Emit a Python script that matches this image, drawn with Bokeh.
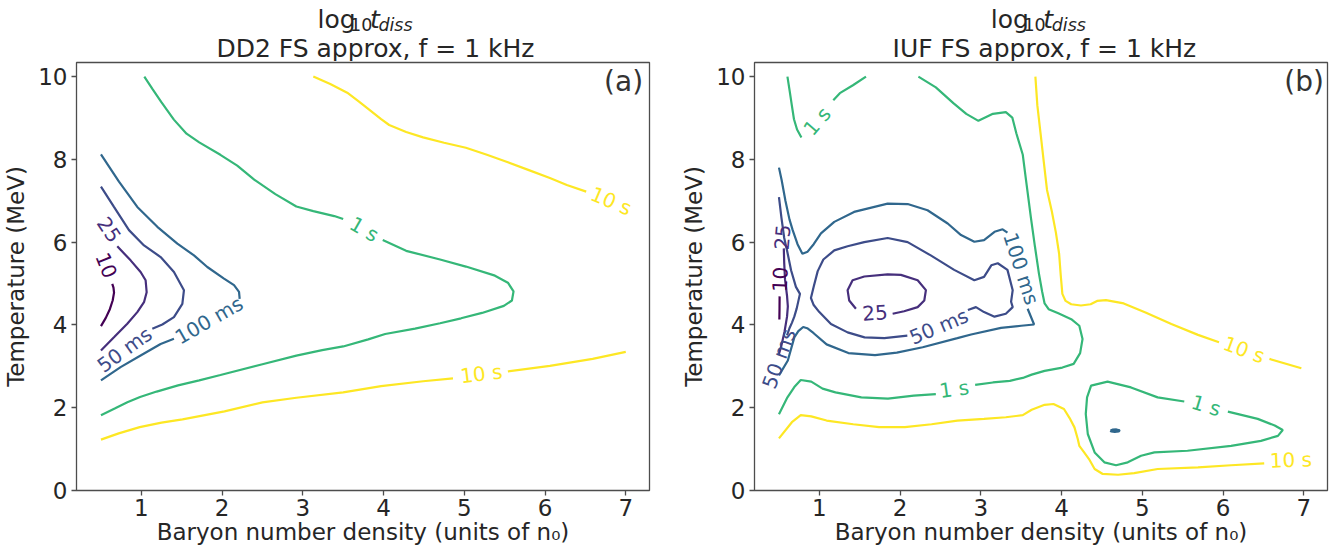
import math
from bokeh.plotting import figure
from bokeh.models import Range1d, FixedTicker, Label, ColumnDataSource
from bokeh.layouts import row, column
from bokeh.palettes import Viridis256
from bokeh.core.properties import value
from bokeh.embed import file_html
from bokeh.resources import INLINE

FONT = "DejaVu Sans"
TXT = "#262626"
EDGE = "#4d4d4d"

# contour levels (seconds) and axis ticks
levels_s = [0.01, 0.025, 0.05, 0.1, 1.0, 10.0]
x_ticks = [1, 2, 3, 4, 5, 6, 7]
y_ticks = [0, 2, 4, 6, 8, 10]
x_range_ab = [0.197, 7.294]
y_range_ab = [0.0, 10.34]

titles = ["DD2 FS approx, f = 1 kHz", "IUF FS approx, f = 1 kHz"]
panel_tags = ["(a)", "(b)"]
x_label = "Baryon number density (units of n\u2080)"
y_label = "Temperature (MeV)"

# ---------------- panel (a): DD2 ----------------
a10_x = [0.50, 0.56, 0.61, 0.645, 0.662, 0.655, 0.64]
a10_y = [3.97, 4.17, 4.38, 4.59, 4.78, 4.90, 4.99]

a25_x = [0.50, 0.661, 0.826, 0.95, 1.033, 1.066, 1.053, 0.991, 0.867, 0.702]
a25_y = [3.38, 3.70, 4.03, 4.31, 4.55, 4.79, 5.08, 5.28, 5.56, 5.90]

a50_x = [0.50, 0.661, 0.847, 1.033, 1.239, 1.404, 1.528, 1.508, 1.404, 1.26, 1.136]
a50_y = [7.34, 6.85, 6.29, 5.92, 5.64, 5.28, 4.84, 4.51, 4.19, 4.01, 3.91]

a100_top_x = [0.50, 0.723, 0.95, 1.198, 1.446, 1.652, 1.817, 2.024, 2.148, 2.21, 2.218]
a100_top_y = [8.12, 7.46, 6.85, 6.37, 5.965, 5.68, 5.40, 5.12, 4.96, 4.80, 4.63]
a100_bot_x = [1.404, 1.239, 0.991, 0.743, 0.50]
a100_bot_y = [3.665, 3.54, 3.26, 2.98, 2.66]

a1s_top_x = [1.037, 1.141, 1.246, 1.403, 1.56, 1.717, 1.979, 2.188, 2.398, 2.66, 2.92,
             3.13, 3.39, 3.50]
a1s_top_y = [10.0, 9.69, 9.39, 8.96, 8.62, 8.41, 8.11, 7.85, 7.51, 7.16, 6.86,
             6.75, 6.63, 6.56]
a1s_bot_x = [3.99, 4.28, 4.70, 5.02, 5.38, 5.54, 5.61, 5.59, 5.49, 5.22, 4.96, 4.70,
             4.39, 4.02, 3.81, 3.50, 3.24, 2.92, 2.50, 1.98, 1.717, 1.455, 1.19, 0.984,
             0.827, 0.67, 0.50]
a1s_bot_y = [6.05, 5.79, 5.58, 5.41, 5.19, 5.02, 4.81, 4.59, 4.46, 4.29, 4.16, 4.04,
             3.91, 3.78, 3.65, 3.48, 3.39, 3.26, 3.05, 2.79, 2.66, 2.54, 2.39, 2.26,
             2.13, 1.98, 1.82]

a10s_top_x = [3.13, 3.34, 3.55, 3.70, 3.81, 3.97, 4.07, 4.28, 4.49, 4.75, 5.02, 5.28,
              5.54, 5.80, 6.06, 6.27, 6.51]
a10s_top_y = [10.0, 9.82, 9.61, 9.39, 9.22, 8.97, 8.83, 8.66, 8.53, 8.40, 8.28, 8.11,
              7.93, 7.74, 7.55, 7.38, 7.22]
a10s_bot1_x = [0.50, 0.72, 0.98, 1.25, 1.51, 2.03, 2.50, 2.92, 3.50, 3.97, 4.49, 4.86]
a10s_bot1_y = [1.23, 1.38, 1.53, 1.64, 1.72, 1.91, 2.13, 2.24, 2.37, 2.52, 2.64, 2.71]
a10s_bot2_x = [5.54, 6.06, 6.59, 7.0]
a10s_bot2_y = [2.88, 3.01, 3.18, 3.35]

a_segments = [  # (level index, xs, ys)
    (0, a10_x, a10_y), (1, a25_x, a25_y), (2, a50_x, a50_y),
    (3, a100_top_x, a100_top_y), (3, a100_bot_x, a100_bot_y),
    (4, a1s_top_x, a1s_top_y), (4, a1s_bot_x, a1s_bot_y),
    (5, a10s_top_x, a10s_top_y), (5, a10s_bot1_x, a10s_bot1_y), (5, a10s_bot2_x, a10s_bot2_y),
]

a_lab_x = [0.565, 0.60, 0.793, 1.838, 3.76, 6.82, 5.21]
a_lab_y = [5.44, 6.30, 3.40, 4.11, 6.31, 6.99, 2.82]
a_lab_text = ["10", "25", "50 ms", "100 ms", "1 s", "10 s", "10 s"]
a_lab_angle = [-68, -56, 36, 30, -30, -23, 7]
a_lab_level = [0, 1, 2, 3, 4, 5, 5]

# ---------------- panel (b): IUF ----------------
b10_x = [0.505, 0.507, 0.508]
b10_y = [4.13, 4.40, 4.69]

b25L_x = [0.56, 0.565, 0.575, 0.60, 0.61, 0.60, 0.57, 0.53, 0.50]
b25L_y = [5.85, 5.50, 5.10, 4.70, 4.45, 4.20, 3.85, 3.50, 3.30]
b25loop_x = [1.453, 1.37, 1.35, 1.412, 1.557, 1.846, 2.01, 2.218, 2.32, 2.30, 2.218, 2.05, 1.908]
b25loop_y = [4.39, 4.59, 4.84, 5.08, 5.17, 5.22, 5.21, 5.08, 4.84, 4.59, 4.43, 4.33, 4.27]

b50L_x = [0.50, 0.53, 0.565, 0.60, 0.65, 0.71, 0.76, 0.72, 0.69, 0.66, 0.63, 0.60]
b50L_y = [7.09, 6.60, 6.10, 5.80, 5.32, 4.92, 4.75, 4.40, 4.20, 4.05, 3.92, 3.75]
b50loop_x = [2.09, 1.805, 1.56, 1.35, 1.144, 1.0, 0.93, 0.896, 0.93, 0.98, 1.05, 1.185, 1.35,
             1.556, 1.846, 2.094, 2.38, 2.67, 2.92, 3.04, 3.13, 3.21, 3.33, 3.395, 3.375,
             3.395, 3.31, 3.17, 3.04, 2.94, 2.84]
b50loop_y = [3.74, 3.68, 3.70, 3.82, 4.02, 4.31, 4.48, 4.65, 4.92, 5.30, 5.58, 5.80, 5.90,
             6.00, 6.10, 6.00, 5.68, 5.33, 5.08, 5.16, 5.44, 5.49, 5.33, 4.84, 4.56,
             4.43, 4.27, 4.20, 4.31, 4.43, 4.36]

b100_1_x = [0.50, 0.533, 0.58, 0.63, 0.67, 0.73, 0.79, 0.855, 0.93, 1.02, 1.185, 1.43, 1.846,
            2.094, 2.34, 2.59, 2.755, 2.92, 3.04, 3.17, 3.27, 3.33]
b100_1_y = [7.80, 7.50, 7.00, 6.55, 6.29, 5.95, 5.72, 5.77, 5.95, 6.21, 6.49, 6.73, 6.93,
            6.92, 6.77, 6.45, 6.17, 6.01, 6.05, 6.25, 6.31, 6.23]
b100_2_x = [3.58, 3.66, 3.50, 3.25, 2.88, 2.71, 2.28, 1.96, 1.69, 1.36, 1.09, 0.93, 0.85,
            0.80, 0.74, 0.69, 0.61, 0.50]
b100_2_y = [4.39, 4.01, 3.98, 3.93, 3.77, 3.68, 3.46, 3.33, 3.27, 3.32, 3.53, 3.80, 3.92,
            3.95, 3.85, 3.70, 3.14, 2.78]
b100dot_x = [4.605, 4.63, 4.68, 4.72, 4.71, 4.66, 4.615, 4.605]
b100dot_y = [1.445, 1.47, 1.475, 1.455, 1.425, 1.415, 1.425, 1.445]

b1sTL_1_x = [0.605, 0.632, 0.659, 0.686, 0.724, 0.778]
b1sTL_1_y = [10.0, 9.66, 9.31, 8.97, 8.72, 8.53]
b1sTL_2_x = [1.173, 1.254, 1.416, 1.578]
b1sTL_2_y = [9.43, 9.60, 9.79, 10.0]
b1sBig_1_x = [2.227, 2.443, 2.66, 2.82, 2.97, 3.15, 3.31, 3.39, 3.44, 3.52, 3.56, 3.62, 3.67,
              3.72, 3.76, 3.79, 3.84, 3.96, 4.12, 4.22, 4.26, 4.23, 4.15, 4.01, 3.79, 3.63,
              3.52, 3.36, 3.15, 2.93]
b1sBig_1_y = [10.0, 9.74, 9.36, 9.10, 8.93, 9.10, 9.14, 9.01, 8.63, 8.11, 7.50, 6.60, 5.90,
              5.24, 4.80, 4.52, 4.38, 4.28, 4.14, 3.98, 3.66, 3.32, 3.06, 2.97, 2.89, 2.80,
              2.72, 2.65, 2.61, 2.55]
b1sBig_2_x = [2.443, 2.17, 1.85, 1.52, 1.20, 1.04, 0.90, 0.77, 0.69, 0.605, 0.50]
b1sBig_2_y = [2.33, 2.29, 2.22, 2.25, 2.37, 2.46, 2.63, 2.67, 2.50, 2.25, 1.84]
b1sLoop_x = [6.06, 6.43, 6.64, 6.74, 6.68, 6.47, 6.10, 5.56, 5.15, 4.985, 4.82, 4.675, 4.53,
             4.41, 4.325, 4.30, 4.316, 4.366, 4.57, 4.86, 5.19, 5.52]
b1sLoop_y = [1.905, 1.73, 1.57, 1.46, 1.32, 1.20, 1.08, 0.96, 0.92, 0.84, 0.68, 0.61, 0.68,
             0.92, 1.365, 1.85, 2.25, 2.535, 2.63, 2.49, 2.25, 2.15]

b10s_top1_x = [3.676, 3.70, 3.74, 3.78, 3.82, 3.88, 3.93, 3.97, 3.99, 4.01, 4.05, 4.12, 4.24,
               4.36, 4.44, 4.55, 4.77, 5.04, 5.36, 5.69, 5.95]
b10s_top1_y = [10.0, 9.31, 8.63, 7.94, 7.26, 6.74, 6.23, 5.72, 5.20, 4.75, 4.58, 4.50, 4.47,
               4.50, 4.58, 4.60, 4.52, 4.30, 4.02, 3.76, 3.58]
b10s_top2_x = [6.575, 6.97]
b10s_top2_y = [3.18, 2.955]
b10s_bot_x = [0.50, 0.66, 0.77, 0.90, 1.09, 1.42, 1.74, 2.06, 2.39, 2.71, 3.04, 3.31, 3.52,
              3.63, 3.79, 3.90, 4.03, 4.10, 4.16, 4.20, 4.22, 4.28, 4.34, 4.41, 4.51, 4.70,
              4.90, 5.19, 5.69, 6.10, 6.51]
b10s_bot_y = [1.26, 1.65, 1.82, 1.79, 1.69, 1.60, 1.53, 1.53, 1.60, 1.69, 1.73, 1.77, 1.82,
              1.95, 2.07, 2.09, 1.97, 1.75, 1.525, 1.25, 1.08, 0.92, 0.76, 0.52, 0.40, 0.38,
              0.42, 0.52, 0.56, 0.61, 0.655]

b_segments = [
    (0, b10_x, b10_y),
    (1, b25L_x, b25L_y), (1, b25loop_x, b25loop_y),
    (2, b50L_x, b50L_y), (2, b50loop_x, b50loop_y),
    (3, b100_1_x, b100_1_y), (3, b100_2_x, b100_2_y), (3, b100dot_x, b100dot_y),
    (4, b1sTL_1_x, b1sTL_1_y), (4, b1sTL_2_x, b1sTL_2_y),
    (4, b1sBig_1_x, b1sBig_1_y), (4, b1sBig_2_x, b1sBig_2_y), (4, b1sLoop_x, b1sLoop_y),
    (5, b10s_top1_x, b10s_top1_y), (5, b10s_top2_x, b10s_top2_y), (5, b10s_bot_x, b10s_bot_y),
]

b_lab_x = [0.515, 0.545, 0.50, 1.69, 2.48, 3.50, 0.973, 2.67, 5.79, 6.26, 6.84]
b_lab_y = [5.10, 6.12, 3.18, 4.29, 3.96, 5.36, 8.92, 2.45, 2.05, 3.40, 0.735]
b_lab_text = ["10", "25", "50 ms", "25", "50 ms", "100 ms", "1 s", "1 s", "1 s", "10 s", "10 s"]
b_lab_angle = [88, 85, 70, 4, 23, -72, 49, 8, -17, -20, 2]
b_lab_level = [0, 1, 2, 1, 2, 3, 4, 4, 4, 5, 5]


def level_color(i):
    lo, hi = math.log10(levels_s[0]), math.log10(levels_s[-1])
    t = (math.log10(levels_s[i]) - lo) / (hi - lo)
    return Viridis256[min(255, int(round(t * 255)))]


TITLE_H = 61
MAIN_H = 554 - TITLE_H
FRAME_W = 573
BASE_SHIFT = 8  # vertical correction measured on the rendered baseline


def make_title(width, bl, title, xshift, xshift1):
    t = figure(width=width, height=TITLE_H, x_range=Range1d(0, width), y_range=Range1d(0, TITLE_H),
               output_backend="svg", toolbar_location=None,
               x_axis_location=None, y_axis_location=None,
               min_border=0, min_border_left=0, min_border_right=0,
               min_border_top=0, min_border_bottom=0)
    t.title.visible = False
    t.outline_line_color = None
    t.grid.visible = False
    t.background_fill_color = "white"
    t.border_fill_color = "white"
    xc = bl + FRAME_W / 2 + xshift
    t.text(x=[xc], y=[TITLE_H - 55.5 + BASE_SHIFT], text=[title], text_font=value(FONT),
           text_font_size=value("25px"), text_color=TXT, text_align="center",
           text_baseline="alphabetic")
    F, S = 25, 17.5
    pieces = [("log", "normal", F, 0, 1.525, 0), ("10", "normal", S, -5, 1.272, 1),
              ("t", "italic", F, 0, 0.392, 0), ("diss", "italic", S, -5, 1.955, 0)]
    widths = [pc[2] * pc[4] + pc[5] for pc in pieces]
    off = xc + xshift1 - sum(widths) / 2
    for pc, w in zip(pieces, widths):
        t.text(x=[off], y=[TITLE_H - 27 + pc[3] + BASE_SHIFT], text=[pc[0]],
               text_font=value(FONT), text_font_size=value(f"{pc[2]}px"),
               text_font_style=pc[1], text_color=TXT,
               text_align="left", text_baseline="alphabetic")
        off += w
    return t


def make_panel(width, bl, br, segments, lab_x, lab_y, lab_t, lab_a, lab_l, tag, tag_x):
    p = figure(width=width, height=MAIN_H,
               x_range=Range1d(*x_range_ab), y_range=Range1d(*y_range_ab),
               output_backend="svg", toolbar_location=None,
               min_border_left=bl, min_border_right=br,
               min_border_top=1, min_border_bottom=64)
    p.title.visible = False
    p.background_fill_color = "white"
    p.border_fill_color = "white"
    p.xgrid.visible = False
    p.ygrid.visible = False
    p.outline_line_color = EDGE
    p.outline_line_width = 1.3
    for ax in (p.xaxis[0], p.yaxis[0]):
        ax.axis_line_color = None
        ax.major_tick_line_color = EDGE
        ax.major_tick_line_width = 1.3
        ax.major_tick_out = 5
        ax.major_tick_in = 0
        ax.minor_tick_line_color = None
        ax.major_label_text_font = FONT
        ax.major_label_text_font_size = "23px"
        ax.major_label_text_color = TXT
        ax.axis_label_text_font = FONT
        ax.axis_label_text_font_size = "23px"
        ax.axis_label_text_font_style = "normal"
        ax.axis_label_text_color = TXT
    p.xaxis.ticker = FixedTicker(ticks=x_ticks)
    p.yaxis.ticker = FixedTicker(ticks=y_ticks)
    p.xaxis.axis_label = x_label
    p.yaxis.axis_label = y_label
    p.xaxis.major_label_standoff = 3
    p.yaxis.major_label_standoff = 4
    p.xaxis.axis_label_standoff = 0
    p.yaxis.axis_label_standoff = 6

    src = ColumnDataSource(dict(
        xs=[s[1] for s in segments], ys=[s[2] for s in segments],
        color=[level_color(s[0]) for s in segments]))
    p.multi_line(xs="xs", ys="ys", line_color="color", line_width=2.2, source=src)

    lsrc = ColumnDataSource(dict(
        x=lab_x, y=lab_y, text=lab_t,
        angle=[math.radians(a) for a in lab_a],
        color=[level_color(l) for l in lab_l]))
    p.text(x="x", y="y", text="text", angle="angle", text_color="color", source=lsrc,
           text_font=value(FONT), text_font_size=value("20px"),
           text_align="center", text_baseline="middle")

    p.add_layout(Label(x=tag_x, y=10.27, text=tag, text_align="right", text_baseline="top",
                       text_font=FONT, text_font_size="28px", text_color="#333333"))
    return p


t1 = make_title(670, 76, titles[0], -13, -15)
t2 = make_title(671, 84, titles[1], -31, -10)
p1 = make_panel(670, 76, 21, a_segments, a_lab_x, a_lab_y, a_lab_text, a_lab_angle,
                a_lab_level, panel_tags[0], 7.215)
p2 = make_panel(671, 84, 14, b_segments, b_lab_x, b_lab_y, b_lab_text, b_lab_angle,
                b_lab_level, panel_tags[1], 7.25)

layout = row(column(t1, p1), column(t2, p2))
open("out.html", "w").write(file_html(layout, INLINE))
